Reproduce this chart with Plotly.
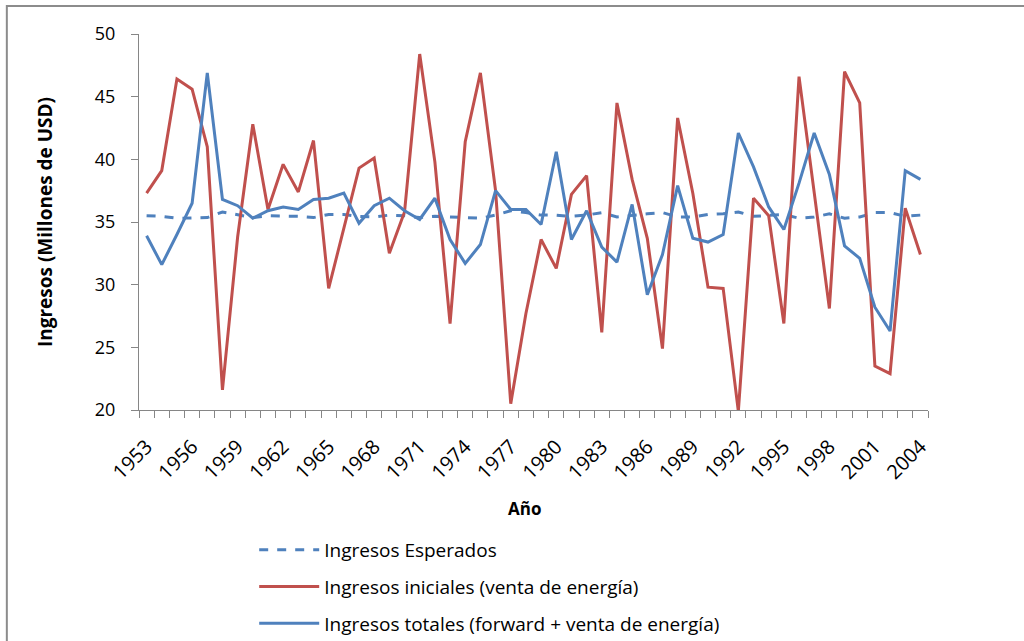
import plotly.graph_objects as go

years = list(range(1953, 2005))

ingresos_esperados = [
    35.5, 35.45, 35.3, 35.3, 35.35, 35.8, 35.55, 35.35, 35.5, 35.5,
    35.45, 35.35, 35.6, 35.6, 35.45, 35.4, 35.55, 35.5, 35.35, 35.45,
    35.4, 35.3, 35.3, 35.55, 35.9, 35.75, 35.55, 35.55, 35.45, 35.55,
    35.75, 35.4, 35.55, 35.65, 35.75, 35.4, 35.4, 35.6, 35.65, 35.8,
    35.45, 35.55, 35.6, 35.3, 35.4, 35.65, 35.3, 35.4, 35.75, 35.75,
    35.45, 35.55,
]

ingresos_iniciales = [
    37.3, 39.1, 46.4, 45.6, 41.0, 21.6, 33.8, 42.8, 36.0, 39.6,
    37.4, 41.5, 29.7, 34.5, 39.3, 40.1, 32.5, 35.8, 48.4, 39.8,
    26.9, 41.4, 46.9, 37.5, 20.5, 27.7, 33.6, 31.3, 37.2, 38.7,
    26.2, 44.5, 38.4, 33.7, 24.9, 43.3, 37.3, 29.8, 29.7, 19.9,
    36.9, 35.5, 26.9, 46.6, 37.3, 28.1, 47.0, 44.5, 23.5, 22.9,
    36.1, 32.4,
]

ingresos_totales = [
    33.9, 31.6, 34.0, 36.5, 46.9, 36.8, 36.3, 35.3, 35.9, 36.2,
    36.0, 36.8, 36.9, 37.3, 34.9, 36.3, 36.9, 35.9, 35.2, 36.9,
    33.6, 31.7, 33.2, 37.5, 36.0, 36.0, 34.8, 40.6, 33.6, 35.9,
    33.0, 31.8, 36.4, 29.2, 32.4, 37.9, 33.7, 33.4, 34.0, 42.1,
    39.4, 36.2, 34.4, 38.1, 42.1, 38.8, 33.1, 32.1, 28.2, 26.3,
    39.1, 38.4,
]

label_years = list(range(1953, 2005, 3))

BLUE = "#4F81BD"
RED = "#C0504D"
AXIS = "#868686"
FONT = "Open Sans, DejaVu Sans, sans-serif"

fig = go.Figure()

fig.add_trace(go.Scatter(
    x=years, y=ingresos_esperados, mode="lines",
    name="Ingresos Esperados", legendgroup="a",
    line=dict(color=BLUE, width=3, dash="dash"),
))
fig.add_trace(go.Scatter(
    x=years, y=ingresos_iniciales, mode="lines",
    name="Ingresos iniciales (venta de energía)", legendgroup="b",
    line=dict(color=RED, width=3),
))
fig.add_trace(go.Scatter(
    x=years, y=ingresos_totales, mode="lines",
    name="Ingresos totales (forward + venta de energía)", legendgroup="c",
    line=dict(color=BLUE, width=3),
))

fig.update_layout(
    width=1024, height=641,
    margin=dict(l=139, r=96, t=34, b=231),
    paper_bgcolor="white", plot_bgcolor="white",
    font=dict(family=FONT, size=16, color="black"),
    showlegend=True,
    legend=dict(
        x=0.146, y=0.1716, xref="paper", yref="container",
        xanchor="left", yanchor="top",
        orientation="v", traceorder="grouped", tracegroupgap=9,
        itemwidth=60, font=dict(size=19),
        bgcolor="rgba(0,0,0,0)",
    ),
    annotations=[dict(
        text="<b>Año</b>", xref="paper", yref="paper",
        x=0.488, y=-0.297, showarrow=False, font=dict(size=17),
    )],
    shapes=[dict(
        type="rect", xref="paper", yref="paper",
        x0=-0.1675, x1=1.2, y0=-0.8, y1=1.0745,
        line=dict(color="#8c8c8c", width=2),
    )],
)

fig.update_xaxes(
    range=[1952.5, 2004.5], automargin=False,
    tickmode="array", tickvals=label_years, ticktext=[str(y) for y in label_years],
    tickangle=-45, ticks="", ticklabelstandoff=16,
    minor=dict(ticks="outside", ticklen=7, tick0=1952.5, dtick=1, tickcolor=AXIS),
    showline=True, linecolor=AXIS, linewidth=1,
    showgrid=False, zeroline=False,
    tickfont=dict(size=20),
)

fig.update_yaxes(
    range=[20, 50], dtick=5, automargin=False,
    ticks="outside", ticklen=7, tickcolor=AXIS, ticklabelstandoff=12,
    showline=True, linecolor=AXIS, linewidth=1,
    showgrid=False, zeroline=False,
    title=dict(text="<b>Ingresos (Millones de USD)</b>", standoff=37),
    tickfont=dict(size=18),
)

# drop the browser's default page margin so the figure sits at the window origin
fig.write_html(
    "out.html",
    config={"displayModeBar": False},
    post_script="document.body.style.margin = '0';",
)
